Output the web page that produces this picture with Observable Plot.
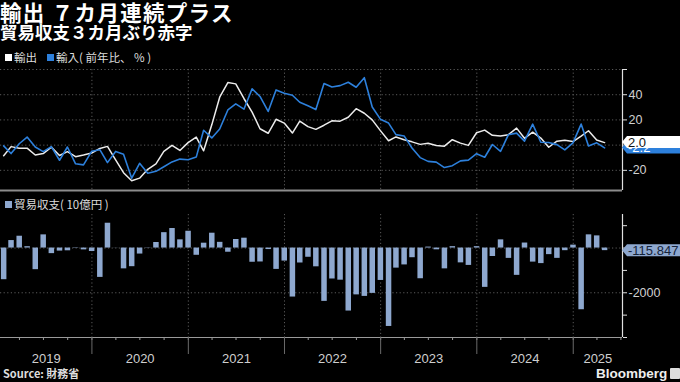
<!DOCTYPE html>
<html>
<head>
<meta charset="utf-8">
<script src="https://cdn.jsdelivr.net/npm/d3@7"></script>
<script src="https://cdn.jsdelivr.net/npm/@observablehq/plot@0.6"></script>
<style>
html, body { margin: 0; padding: 0; background: #000; }
#root { position: relative; width: 680px; height: 382px; overflow: hidden; background: #000; color: #fff;
  font-family: "Noto Sans CJK JP", "Noto Sans", sans-serif; }
.abs { position: absolute; white-space: nowrap; }
#title { left: 0; top: 1px; font-size: 21.5px; font-weight: 700; line-height: 22px; letter-spacing: 1.3px; }
#subtitle { left: 0; top: 23px; font-size: 17.5px; font-weight: 700; line-height: 18px; }
.legend { font-size: 11.5px; color: #ddd; line-height: 14px; }
.sw { display: inline-block; width: 7px; height: 7px; margin-right: 2px; vertical-align: 1px; }
#legendTop { left: 5px; top: 50px; }
#legendBottom { left: 5px; top: 197px; }
#topChart { left: 0; top: 64px; }
#bottomChart { left: 0; top: 192px; }
#source { left: 3px; top: 367px; font-size: 11px; font-weight: 700; color: #ddd; line-height: 13px; }
#brand { left: 596px; top: 366px; font-family: "Liberation Sans", Arial, sans-serif; font-size: 13.5px; font-weight: 700; color: #eee; line-height: 16px; }
#icon { left: 670px; top: 368px; width: 10px; height: 11px; background: #ddd; border-radius: 1px; }
</style>
</head>
<body>
<div id="root">
  <div id="title" class="abs">輸出 ７カ月連続プラス</div>
  <div id="subtitle" class="abs">貿易収支３カ月ぶり赤字</div>
  <div id="legendTop" class="abs legend"><span class="sw" style="background:#ffffff"></span>輸出<span class="sw" style="background:#2d80dc;margin-left:10px"></span>輸入( 前年比、 % )</div>
  <div id="legendBottom" class="abs legend"><span class="sw" style="background:#8ea8cf"></span>貿易収支( 10億円 )</div>
  <div id="topChart" class="abs"></div>
  <div id="bottomChart" class="abs"></div>
  <div id="source" class="abs">Source:&nbsp;財務省</div>
  <div id="brand" class="abs">Bloomberg</div>
  <div id="icon" class="abs"></div>
</div>
<script>
// ---------- DATA (monthly, Jan 2019 – Apr 2025) ----------
const firstMonth = "2019-01";
const lastMonth = "2025-04";
// 輸出 前年比 (%)
const exportsYoY = [
  -8.4, -1.2, -2.4, -2.4, -7.8, -6.7, -1.6, -8.2, -5.2, -9.2, -7.9, -6.3,
  -2.6, -1.0, -11.7, -21.9, -28.3, -26.2, -19.2, -14.8, -4.9, -0.2, -4.2, 2.0,
  6.4, -4.5, 16.1, 38.0, 49.6, 48.6, 37.0, 26.2, 13.0, 9.4, 20.5, 17.5,
  9.6, 19.1, 14.7, 12.5, 15.8, 19.3, 19.0, 22.1, 28.9, 25.3, 20.0, 11.5,
  3.5, 6.5, 4.3, 2.6, 0.6, 1.5, -0.3, -0.8, 4.3, 1.6, -0.2, 9.8,
  11.9, 7.8, 7.3, 8.3, 13.5, 5.4, 10.3, 5.6, -1.7, 3.1, 3.8, 2.8,
  7.2, 11.4, 4.0, 2.0
];
// 輸入 前年比 (%)
const importsYoY = [
  -0.6, -6.7, 1.1, 6.4, -1.5, -5.2, -1.2, -12.0, -1.5, -14.8, -15.7, -4.9,
  -3.6, -13.9, -5.0, -7.2, -26.2, -14.4, -22.3, -20.8, -17.2, -13.3, -11.1, -11.6,
  -9.5, 11.8, 5.7, 12.8, 27.9, 32.7, 28.5, 44.7, 38.6, 26.7, 43.8, 41.1,
  39.6, 34.0, 31.2, 28.2, 48.9, 46.1, 47.2, 49.9, 45.9, 53.5, 30.3, 20.6,
  17.5, 8.3, 7.3, -2.3, -9.9, -12.9, -13.5, -17.8, -16.3, -12.5, -11.9, -6.8,
  -9.6, 0.5, -4.9, 8.3, 9.5, 3.2, 16.6, 2.3, 2.1, 0.4, -3.8, 1.8,
  16.7, -0.7, 1.8, -2.2
];
// 貿易収支 (10億円)
const tradeBalance = [
  -1415.6, 334.9, 528.5, 60.4, -967.1, 589.5, -249.6, -136.3, -123.0, 17.3, -82.1, -154.6,
  -1312.6, 1109.8, 4.9, -930.4, -833.4, -268.8, 11.6, 248.3, 687.8, 872.9, 366.8, 751.0,
  -323.9, 217.4, 663.7, 255.3, -187.1, 383.2, 441.0, -635.4, -622.8, -67.4, -954.8, -582.4,
  -2191.1, -668.3, -412.4, -839.2, -2384.7, -1383.8, -1436.8, -2817.3, -2094.0, -2162.3, -2027.4, -1448.5,
  -3506.4, -897.7, -754.4, -432.4, -1372.5, 43.0, -78.7, -930.5, 62.4, -662.6, -776.9, 62.1,
  -1758.3, -379.4, 366.5, -462.5, -1221.3, 224.0, -628.7, -695.3, -294.3, -461.2, -117.6, 130.9,
  -2758.8, 590.5, 544.1, -115.847
];
const yearLabels = ["2019", "2020", "2021", "2022", "2023", "2024", "2025"];
const topTicks = [60, 40, 20, 0, -20];
const topTickLabels = ["", "40", "20", "", "-20"];
const bottomTicks = [1000, 0, -1000, -2000, -3000, -4000];
const bottomTickLabels = ["", "", "", "-2000", "", ""];
const lastExportLabel = "2.0";
const lastImportLabel = "-2.2";
const lastBalanceLabel = "-115.847";

// ---------- build ----------
const parseM = d3.utcParse("%Y-%m");
const monthStarts = d3.utcMonth.range(parseM(firstMonth), d3.utcMonth.offset(parseM(lastMonth), 1));
const dates = monthStarts.map(d => d3.utcDay.offset(d3.utcMonth.offset(d, 1), -1)); // month-end
const rows = dates.map((date, i) => ({date, exp: exportsYoY[i], imp: importsYoY[i], tb: tradeBalance[i]}));

const xDomain = [new Date(Date.UTC(2019, 0, 19)), new Date(Date.UTC(2025, 6, 7))];
const yearStarts = yearLabels.slice(1).map(y => new Date(Date.UTC(+y, 0, 1)));
const yearMids = yearLabels.map(y => {
  const a = Math.max(+new Date(Date.UTC(+y, 0, 1)), +xDomain[0]);
  const b = Math.min(+new Date(Date.UTC(+y + 1, 0, 1)), +xDomain[1]);
  return {x: new Date((a + b) / 2), label: y};
});
const quarterTicks = d3.utcMonth.every(3).range(xDomain[0], xDomain[1]);

const axisFont = "Liberation Sans, Arial, sans-serif";
const grid = {stroke: "#5a5a5a", strokeDasharray: "1.2,2.4", strokeWidth: 1};

const topChart = Plot.plot({
  width: 680, height: 128,
  marginLeft: 0, marginRight: 58, marginTop: 5, marginBottom: 2,
  style: {background: "transparent", color: "#d0d0d0", fontFamily: axisFont, fontSize: "12.5px", overflow: "visible"},
  x: {type: "utc", domain: xDomain, axis: null},
  y: {domain: [-36, 60]},
  marks: [
    Plot.ruleY(topTicks, grid),
    Plot.ruleX(yearStarts, grid),
    Plot.line(rows, {x: "date", y: "exp", stroke: "#ececec", strokeWidth: 1.5}),
    Plot.line(rows, {x: "date", y: "imp", stroke: "#2d80dc", strokeWidth: 1.6}),
    Plot.ruleY([-36], {stroke: "#8c8c8c", strokeWidth: 2}),
    Plot.ruleX([xDomain[1]], {stroke: "#e0e0e0", strokeWidth: 1.2}),
    Plot.axisY(topTicks, {anchor: "right", tickSize: 4, tickPadding: 2, label: null,
      stroke: "#e0e0e0", tickFormat: d => topTickLabels[topTicks.indexOf(d)]})
  ]
});
document.getElementById("topChart").appendChild(topChart);

const bottomChart = Plot.plot({
  width: 680, height: 180,
  marginLeft: 0, marginRight: 58, marginTop: 22, marginBottom: 35,
  style: {background: "transparent", color: "#d0d0d0", fontFamily: axisFont, fontSize: "12.5px", overflow: "visible"},
  x: {type: "utc", domain: xDomain},
  y: {domain: [-4000, 1500]},
  marks: [
    Plot.ruleY([0, -2000], grid),
    Plot.ruleX(yearStarts, grid),
    Plot.ruleX(rows, {x: "date", y1: 0, y2: "tb", stroke: "#8ea8cf", strokeWidth: 5.5}),
    Plot.ruleY([-4000], {stroke: "#9a9a9a", strokeWidth: 1.2}),
    Plot.ruleX([xDomain[1]], {stroke: "#e0e0e0", strokeWidth: 1.2}),
    Plot.axisY(bottomTicks, {anchor: "right", tickSize: 4, tickPadding: 2, label: null,
      stroke: "#e0e0e0", tickFormat: d => bottomTickLabels[bottomTicks.indexOf(d)]}),
    Plot.axisX(quarterTicks, {anchor: "bottom", tickSize: 3, stroke: "#9a9a9a", tickFormat: () => "", label: null}),
    Plot.axisX(yearStarts, {anchor: "bottom", tickSize: 17, stroke: "#6a6a6a", tickFormat: () => "", label: null}),
    Plot.text(yearMids, {x: "x", text: "label", frameAnchor: "bottom", dy: 25,
      fill: "#cfcfcf", fontSize: 13, fontFamily: "Liberation Sans Narrow, Liberation Sans, sans-serif"})
  ]
});
document.getElementById("bottomChart").appendChild(bottomChart);

// value tags on the right edge, positioned with the charts' scales
function tag(chart, value, text, fill, textFill) {
  const x0 = chart.scale("x").apply(xDomain[1]);
  const y0 = chart.scale("y").apply(value);
  const h = 12, w = 680 - x0;
  const g = d3.select(chart).append("g");
  g.append("path")
    .attr("d", `M${x0},${y0} L${x0 + 5},${y0 - h / 2} H${x0 + w} V${y0 + h / 2} H${x0 + 5} Z`)
    .attr("fill", fill);
  g.append("text")
    .attr("x", x0 + 6).attr("y", y0).attr("dy", "0.36em")
    .attr("text-anchor", "start")
    .attr("fill", textFill)
    .attr("font-family", axisFont).attr("font-size", 13)
    .text(text);
}
tag(topChart, importsYoY[importsYoY.length - 1], lastImportLabel, "#2d80dc", "#ffffff");
tag(topChart, exportsYoY[exportsYoY.length - 1], lastExportLabel, "#ffffff", "#111111");
tag(bottomChart, tradeBalance[tradeBalance.length - 1], lastBalanceLabel, "#8ea8cf", "#14233a");
</script>
</body>
</html>
